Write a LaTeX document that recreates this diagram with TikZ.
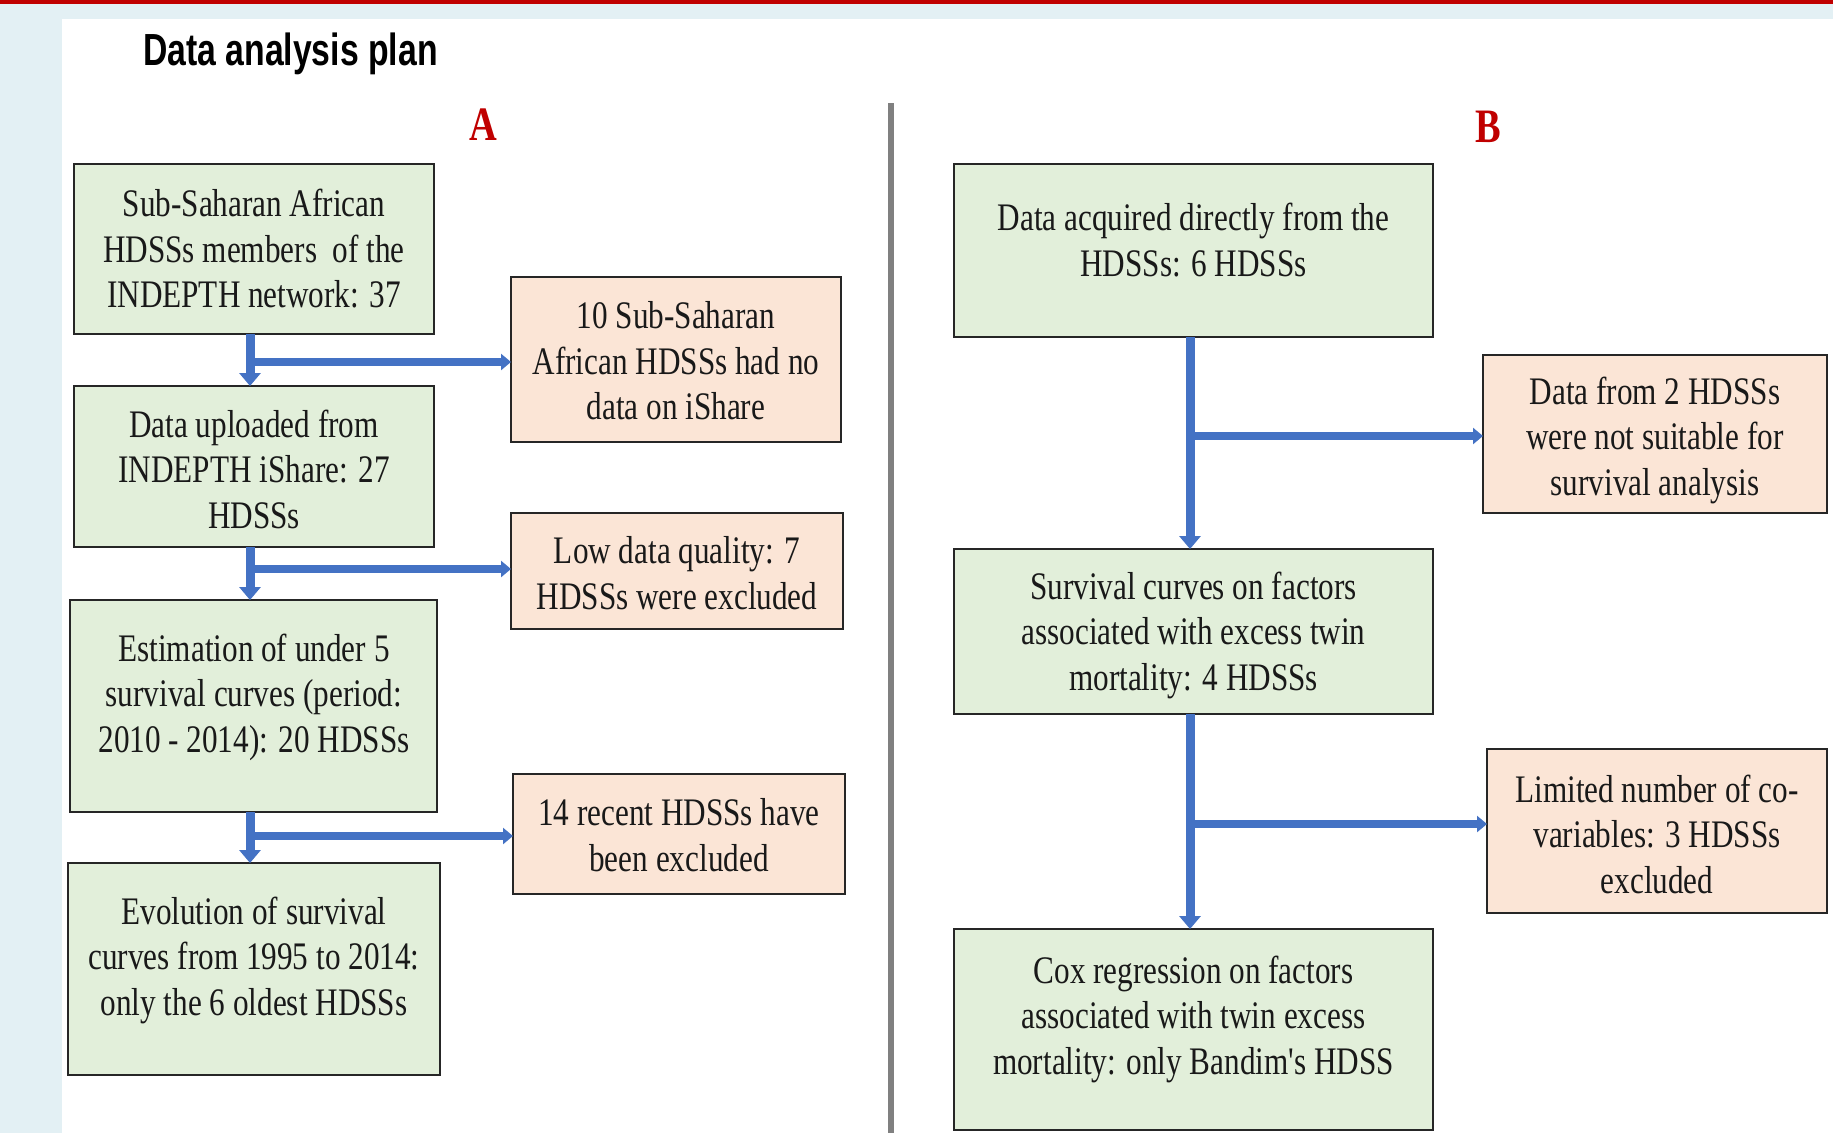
\documentclass[tikz,border=0pt]{standalone}
\usepackage{fontspec}
\setmainfont{Liberation Serif}
\newfontfamily\boxfont{Liberation Serif}[FakeStretch=0.8]
\newfontfamily\titlefont{Liberation Sans}[FakeStretch=0.75]
\usetikzlibrary{arrows.meta}
\definecolor{boxgreen}{HTML}{E2EFDA}
\definecolor{boxorange}{HTML}{FBE5D6}
\definecolor{flowblue}{HTML}{4472C4}
\definecolor{boxborder}{HTML}{262626}
\definecolor{stripblue}{HTML}{E3F0F4}
\definecolor{topred}{HTML}{C00000}
\definecolor{divgray}{HTML}{808080}
\begin{document}
\begin{tikzpicture}[x=1pt,y=-1pt,
  box/.style={draw=boxborder, line width=2.4pt, inner sep=0pt, outer sep=0pt},
  gbox/.style={box, fill=boxgreen},
  obox/.style={box, fill=boxorange},
  txt/.style={font=\boxfont\fontsize{39}{45.5}\selectfont, align=center, inner sep=0pt, text=black!90},
  vflow/.style={draw=flowblue, line width=9pt, -{Triangle[width=21pt,length=13pt]}},
  hflow/.style={draw=flowblue, line width=8pt, -{Triangle[width=16pt,length=10pt]}},
  letter/.style={font=\boxfont\bfseries\fontsize{48}{50}\selectfont, text=topred, inner sep=0pt, anchor=base}
]
\useasboundingbox (0,0) rectangle (1833,1133);
% background
\fill[white] (0,0) rectangle (1833,1133);
\fill[stripblue] (0,0) rectangle (1833,19);
\fill[stripblue] (0,0) rectangle (62,1133);
\fill[topred] (0,0) rectangle (1833,4);
\fill[divgray] (888,103) rectangle (894,1133);

% title and panel letters
\node[font=\titlefont\bfseries\fontsize{45}{50}\selectfont, anchor=base west, inner sep=0pt] (title) at (143,65) {Data analysis plan};
\node[letter] (la) at (483,140) {A};
\node[letter] (lb) at (1488,142) {B};

% panel A boxes
\node[gbox, minimum width=360pt, minimum height=170pt] (l1) at (254,249) {};
\node[gbox, minimum width=360pt, minimum height=161pt] (l2) at (254,466.5) {};
\node[gbox, minimum width=367pt, minimum height=212pt] (l3) at (253.5,706) {};
\node[gbox, minimum width=372pt, minimum height=212pt] (l4) at (254,969) {};
\node[obox, minimum width=330pt, minimum height=165pt] (o1) at (676,359.5) {};
\node[obox, minimum width=332pt, minimum height=116pt] (o2) at (677,571) {};
\node[obox, minimum width=332pt, minimum height=120pt] (o3) at (679,834) {};

\node[txt] (l1t) at (254,249) {Sub-Saharan African\\HDSSs members\ \ of the\\INDEPTH network: 37};
\node[txt] (l2t) at (254,469) {Data uploaded from\\INDEPTH iShare: 27\\HDSSs};
\node[txt] (l3t) at (254,697) {Estimation of under 5\\survival curves (period:\\2010 - 2014): 20 HDSSs};
\node[txt] (l4t) at (254,960) {Evolution of survival\\curves from 1995 to 2014:\\only the 6 oldest HDSSs};
\node[txt] (o1t) at (676,361) {10 Sub-Saharan\\African HDSSs had no\\data on iShare};
\node[txt] (o2t) at (677,573) {Low data quality: 7\\HDSSs were excluded};
\node[txt] (o3t) at (679,835) {14 recent HDSSs have\\been excluded};

% panel B boxes
\node[gbox, minimum width=479pt, minimum height=173pt] (r1) at (1193.5,250.5) {};
\node[obox, minimum width=344pt, minimum height=158pt] (p1) at (1655,434) {};
\node[gbox, minimum width=479pt, minimum height=165pt] (r2) at (1193.5,631.5) {};
\node[obox, minimum width=340pt, minimum height=164pt] (p2) at (1657,831) {};
\node[gbox, minimum width=479pt, minimum height=201pt] (r3) at (1193.5,1029.5) {};

\node[txt] (r1t) at (1193.5,240) {Data acquired directly from the\\HDSSs: 6 HDSSs};
\node[txt] (p1t) at (1655,440) {Data from 2 HDSSs\\were not suitable for\\survival analysis};
\node[txt] (r2t) at (1193.5,635) {Survival curves on factors\\associated with excess twin\\mortality: 4 HDSSs};
\node[txt] (p2t) at (1657,834) {Limited number of co-\\variables: 3 HDSSs\\excluded};
\node[txt] (r3t) at (1193.5,1019) {Cox regression on factors\\associated with twin excess\\mortality: only Bandim's HDSS};

% panel A connectors
\draw[vflow] ([xshift=-4pt]l1.south) -- ([xshift=-4pt]l2.north);
\draw[vflow] ([xshift=-4pt]l2.south) -- ([xshift=-3.5pt]l3.north);
\draw[vflow] ([xshift=-3.5pt]l3.south) -- ([xshift=-4pt]l4.north);
\coordinate (ja) at (250,362);
\coordinate (jb) at (250,569);
\coordinate (jc) at (250,836);
\draw[hflow] (ja) -- (ja -| o1.west);
\draw[hflow] (jb) -- (jb -| o2.west);
\draw[hflow] (jc) -- (jc -| o3.west);

% panel B connectors
\draw[vflow] ([xshift=-3.5pt]r1.south) -- ([xshift=-3.5pt]r2.north);
\draw[vflow] ([xshift=-3.5pt]r2.south) -- ([xshift=-3.5pt]r3.north);
\coordinate (jd) at (1190,436);
\coordinate (je) at (1190,824);
\draw[hflow] (jd) -- (jd -| p1.west);
\draw[hflow] (je) -- (je -| p2.west);
\end{tikzpicture}
\end{document}
